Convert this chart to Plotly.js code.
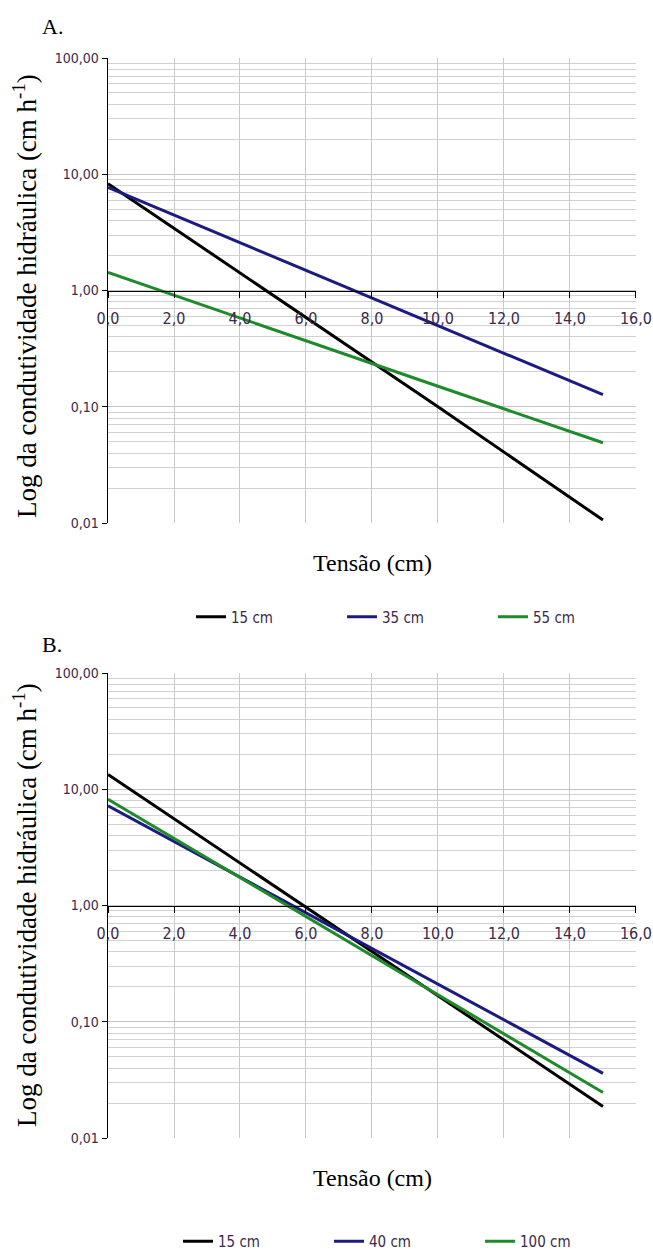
<!DOCTYPE html>
<html>
<head>
<meta charset="utf-8">
<script src="https://cdn.plot.ly/plotly-3.0.1.min.js"></script>
<style>
html,body{margin:0;padding:0;background:#fff;}
#chart{width:653px;height:1258px;}
</style>
</head>
<body>
<div id="chart"></div>
<script>
// ---- data ----
const tensao = [0, 5, 10, 15];
const seriesNamesA = ['15 cm', '35 cm', '55 cm'];
const seriesNamesB = ['15 cm', '40 cm', '100 cm'];
const A_15 = [8.3, 0.91, 0.10, 0.0106];
const A_35 = [7.7, 1.96, 0.50, 0.127];
const A_55 = [1.43, 0.46, 0.15, 0.049];
const B_15 = [13.4, 1.50, 0.167, 0.0187];
const B_40 = [7.2, 1.23, 0.21, 0.036];
const B_100 = [8.2, 1.18, 0.17, 0.0246];
const xTickVals = [0, 2, 4, 6, 8, 10, 12, 14, 16];
const xTickText = ['0,0', '2,0', '4,0', '6,0', '8,0', '10,0', '12,0', '14,0', '16,0'];
const yTickVals = [0.01, 0.1, 1, 10, 100];
const yTickText = ['0,01', '0,10', '1,00', '10,00', '100,00'];
const colors = ['#000000', '#1c1c80', '#1f8a2a'];

// ---- layout helpers ----
const W = 653, H = 1258;
const px = v => v / W;
const py = v => 1 - v / H;
const narrow = 'DejaVu Sans Condensed, Liberation Sans Narrow, Arial Narrow, sans-serif';
const serif = 'Liberation Serif, Times New Roman, serif';
const labelColor = '#3a2a4c';

const xDom = [px(108), px(636)];
const yDomA = [py(523), py(58)];
const yDomB = [py(1138), py(673)];

function mkTrace(y, name, color, xa, ya, leg) {
  return {x: tensao, y: y, name: name, type: 'scatter', mode: 'lines',
    line: {color: color, width: 3}, xaxis: xa, yaxis: ya, legend: leg};
}
const data = [
  mkTrace(A_15, seriesNamesA[0], colors[0], 'x', 'y', 'legend'),
  mkTrace(A_35, seriesNamesA[1], colors[1], 'x', 'y', 'legend'),
  mkTrace(A_55, seriesNamesA[2], colors[2], 'x', 'y', 'legend'),
  mkTrace(B_15, seriesNamesB[0], colors[0], 'x2', 'y2', 'legend2'),
  mkTrace(B_40, seriesNamesB[1], colors[1], 'x2', 'y2', 'legend2'),
  mkTrace(B_100, seriesNamesB[2], colors[2], 'x2', 'y2', 'legend2')
];

function xAxis(yDom) {
  return {domain: xDom, range: [0, 16.001], anchor: 'free', position: (yDom[0] + yDom[1]) / 2,
    tickvals: xTickVals, ticktext: xTickText, showgrid: true, gridcolor: '#c9c9c9', gridwidth: 1,
    zeroline: false, showline: true, linecolor: '#000', linewidth: 1.5,
    ticks: 'outside', ticklen: 6, tickcolor: '#000', tickwidth: 1, ticklabelstandoff: 7,
    ticklabeloverflow: 'allow',
    tickfont: {family: narrow, size: 16, color: labelColor}, fixedrange: true};
}
function yAxis(yDom, xa) {
  return {domain: yDom, type: 'log', range: [-2, 2], anchor: xa,
    tickvals: yTickVals, ticktext: yTickText, showgrid: true, gridcolor: '#c4c4c4', gridwidth: 1,
    minor: {dtick: 'D1', showgrid: true, gridcolor: '#d2d2d2', gridwidth: 1, ticks: ''},
    zeroline: false, showline: true, linecolor: '#000', linewidth: 1.5,
    ticks: 'outside', ticklen: 5, tickcolor: '#000', tickwidth: 1,
    tickfont: {family: narrow, size: 14, color: labelColor}, fixedrange: true};
}

function legendCfg(xPix, yVal, yAnch) {
  return {orientation: 'h', x: px(xPix), y: yVal, xanchor: 'left', yanchor: yAnch,
    entrywidth: 106, entrywidthmode: 'pixels', bgcolor: 'rgba(0,0,0,0)',
    font: {family: narrow, size: 15, color: labelColor}, itemclick: false, itemdoubleclick: false};
}

const yTitle = 'Log da condutividade hidráulica (cm h<sup>-1</sup>)';
const layout = {
  width: W, height: H, margin: {l: 0, r: 0, t: 0, b: 0},
  paper_bgcolor: '#fff', plot_bgcolor: '#fff', showlegend: true,
  xaxis: xAxis(yDomA), yaxis: yAxis(yDomA, 'x'),
  xaxis2: xAxis(yDomB), yaxis2: yAxis(yDomB, 'x2'),
  legend: legendCfg(191, py(617), 'middle'),
  legend2: legendCfg(178, 0, 'bottom'),
  annotations: [
    {text: 'A.', xref: 'paper', yref: 'paper', x: px(40), y: py(26), xanchor: 'left', yanchor: 'middle',
      showarrow: false, font: {family: serif, size: 22, color: '#000'}},
    {text: 'B.', xref: 'paper', yref: 'paper', x: px(40), y: py(644), xanchor: 'left', yanchor: 'middle',
      showarrow: false, font: {family: serif, size: 22, color: '#000'}},
    {text: yTitle, xref: 'paper', yref: 'paper', x: px(25), y: py(296), textangle: -90,
      xanchor: 'center', yanchor: 'middle', showarrow: false, font: {family: serif, size: 27, color: '#000'}},
    {text: yTitle, xref: 'paper', yref: 'paper', x: px(25), y: py(905), textangle: -90,
      xanchor: 'center', yanchor: 'middle', showarrow: false, font: {family: serif, size: 27, color: '#000'}},
    {text: 'Tensão (cm)', xref: 'paper', yref: 'paper', x: (xDom[0] + xDom[1]) / 2, y: py(563),
      xanchor: 'center', yanchor: 'middle', showarrow: false, font: {family: serif, size: 24, color: '#000'}},
    {text: 'Tensão (cm)', xref: 'paper', yref: 'paper', x: (xDom[0] + xDom[1]) / 2, y: py(1178),
      xanchor: 'center', yanchor: 'middle', showarrow: false, font: {family: serif, size: 24, color: '#000'}}
  ]
};

Plotly.newPlot('chart', data, layout, {staticPlot: true, displayModeBar: false});
</script>
</body>
</html>
